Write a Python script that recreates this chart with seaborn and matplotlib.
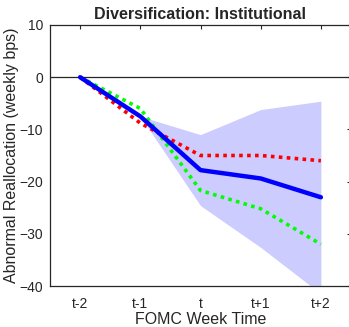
import numpy as np
import pandas as pd
import matplotlib
matplotlib.use("Agg")
import matplotlib.pyplot as plt
import seaborn as sns

weeks = ["t-2", "t-1", "t", "t+1", "t+2"]
blue_vals = [0.0, -7.5, -17.8, -19.4, -23.0]
red_vals = [0.0, -8.8, -15.0, -15.0, -16.0]
green_vals = [0.0, -6.0, -21.7, -25.2, -32.0]
band_x = ["t-1", "t", "t+1", "t+2"]
band_upper = [-7.5, -11.0, -6.2, -4.6]
band_lower = [-7.5, -24.6, -32.6, -41.5]

sns.set_style("white")
plt.rcParams["font.family"] = ["Liberation Sans", "DejaVu Sans"]

pos = {w: i + 1 for i, w in enumerate(weeks)}
df = pd.DataFrame({
    "x": [pos[w] for w in weeks] * 3,
    "y": blue_vals + red_vals + green_vals,
    "series": ["blue"] * 5 + ["red"] * 5 + ["green"] * 5,
})

fig = plt.figure(figsize=(3.49, 3.27), dpi=100)
ax = fig.add_axes([50 / 349, 41 / 327, 301 / 349, 261 / 327])

ax.fill_between([pos[w] for w in band_x], band_lower, band_upper,
                color="#CCCCFF", linewidth=0, zorder=1)
ax.axhline(0, color="#262626", linewidth=0.9, zorder=2)

sns.lineplot(data=df[df.series == "blue"], x="x", y="y", color="#0000FF",
             linewidth=3.2, ax=ax, zorder=4, legend=False)
sns.lineplot(data=df[df.series == "red"], x="x", y="y", color="#FF0000",
             linewidth=2.6, linestyle=(0, (1, 1.2)), ax=ax, zorder=3, legend=False)
sns.lineplot(data=df[df.series == "green"], x="x", y="y", color="#00FF00",
             linewidth=2.6, linestyle=(0, (1, 1.2)), ax=ax, zorder=3, legend=False)

ax.set_xlim(0.5, 5.5)
ax.set_ylim(-40, 10)
ax.set_xticks([pos[w] for w in weeks])
ax.set_xticklabels(weeks)
ax.set_yticks([10, 0, -10, -20, -30, -40])
ax.tick_params(direction="in", length=3, width=0.8, colors="#262626",
               labelsize=10, top=True, right=True, pad=5)
ax.tick_params(axis="x", pad=8)
for lbl in ax.get_xticklabels() + ax.get_yticklabels():
    lbl.set_color("#262626")
for s in ax.spines.values():
    s.set_color("#262626")
    s.set_linewidth(0.9)

ax.set_xlabel("FOMC Week Time", fontsize=11.5, color="#262626", labelpad=1)
ax.set_ylabel("Abnormal Reallocation (weekly bps)", fontsize=11.5, color="#262626", labelpad=0)
ax.set_title("Diversification: Institutional", fontsize=11.5, fontweight="bold", pad=4)

fig.savefig("out.png", dpi=100)
